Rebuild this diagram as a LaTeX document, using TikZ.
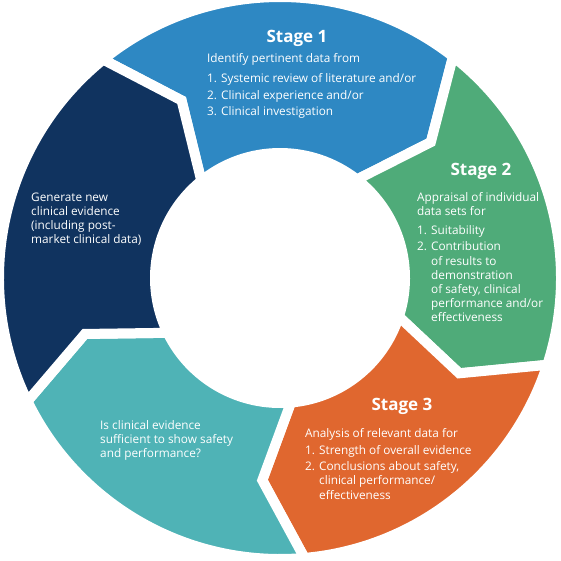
\documentclass[tikz,border=0pt]{standalone}
\usepackage{fontspec}
\setmainfont{Open Sans}
\definecolor{sblue}{HTML}{2E88C3}
\definecolor{sgreen}{HTML}{4FAB79}
\definecolor{sorange}{HTML}{E0672F}
\definecolor{steal}{HTML}{4FB3B6}
\definecolor{snavy}{HTML}{10335F}
\newcommand\Ro{281}
\newcommand\Ri{125}
\newcommand\Rm{203}
\newcommand\dl{10}
\newcommand\ringseg[4]{%
  \path[seg=#3] (#1:\Ro) arc[start angle=#1, end angle=#2, radius=\Ro]
    -- ({#2-\dl}:\Rm) -- (#2:\Ri)
    arc[start angle=#2, end angle=#1, radius=\Ri]
    -- ({#1-\dl}:\Rm) -- cycle;
  \coordinate (#4) at ({(#1+#2)/2}:\Rm);}
\begin{document}
\begin{tikzpicture}[x=1pt,y=1pt,
  seg/.style={fill=#1, draw=white, line width=10pt, line join=miter},
  head/.style={text=white, font=\fontsize{17}{20}\selectfont\bfseries, inner sep=0pt, anchor=base},
  body/.style={text=white, font=\fontsize{11.8}{14.2}\selectfont, inner sep=0pt, anchor=base west}]
\useasboundingbox (-280,-282) rectangle (281,278);
\ringseg{129}{52}{sblue}{s1}
\ringseg{52}{-18}{sgreen}{s2}
\ringseg{-18}{-85}{sorange}{s3}
\ringseg{-85}{-154}{steal}{s4}
\ringseg{206}{129}{snavy}{s5}
% Stage 1
\node[head] (h1) at (17,235) {Stage 1};
\node[body] (t1) at (-73,215) {\parbox[t]{8cm}{Identify pertinent data from\\[5.5pt]
1. Systemic review of literature and/or\\[2.3pt]
2. Clinical experience and/or\\[2.3pt]
3. Clinical investigation}};
% Stage 2
\node[head] (h2) at (201,103) {Stage 2};
\node[body] (t2) at (137,77) {\parbox[t]{5cm}{Appraisal of individual\\
data sets for\\[5.5pt]
1. Suitability\\[1.8pt]
2. Contribution\\
\phantom{2. }of results to\\
\phantom{2. }demonstration\\
\phantom{2. }of safety, clinical\\
\phantom{2. }performance and/or\\
\phantom{2. }effectiveness}};
% Stage 3
\node[head] (h3) at (122,-132) {Stage 3};
\node[body] (t3) at (25,-159) {\parbox[t]{6cm}{Analysis of relevant data for\\[3.5pt]
1. Strength of overall evidence\\[1.8pt]
2. Conclusions about safety,\\
\phantom{2. }clinical performance/\\
\phantom{2. }effectiveness}};
% Teal
\node[body] (t4) at (-180,-151) {\parbox[t]{5cm}{Is clinical evidence\\
sufficient to show safety\\
and performance?}};
% Navy
\node[body] (t5) at (-249,77) {\parbox[t]{5cm}{Generate new\\
clinical evidence\\
(including post-\\
market clinical data)}};
\end{tikzpicture}
\end{document}
